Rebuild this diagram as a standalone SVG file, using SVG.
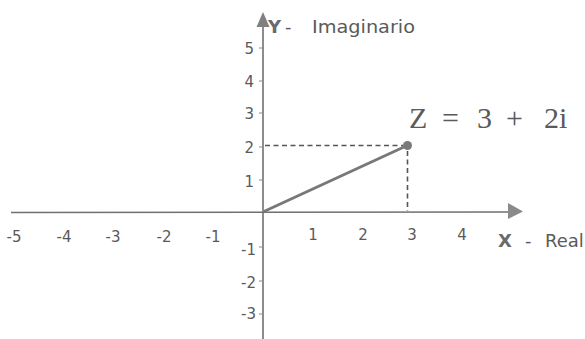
<svg xmlns="http://www.w3.org/2000/svg" width="585" height="339" viewBox="0 0 585 339">
<style>
.ax{stroke:#707070;stroke-width:1.6;fill:none}
.tk{stroke:#8a8a8a;stroke-width:1}
.dash{stroke:#555;stroke-width:1.6;stroke-dasharray:5,3.5;fill:none}
.num{font-family:"DejaVu Sans",Verdana,sans-serif;font-size:15px;fill:#5a5a5a}
.lab{font-family:"DejaVu Sans",Verdana,sans-serif;font-size:18px;fill:#5a5a5a}
.b{font-weight:bold;fill:#6a6a6a}
.eq{font-family:"Liberation Serif","Times New Roman",serif;font-size:30px;fill:#5a5a5a}
</style>
<rect width="585" height="339" fill="#ffffff"/>
<g id="connectors">
<line class="ax" x1="11" y1="212.5" x2="510" y2="212"/>
<path d="M508,203 L523,211.5 L508,219 Z" fill="#8a8a8a"/>
<line class="ax" x1="263" y1="339" x2="263" y2="26"/>
<path d="M256.5,27 L263,12 L269.5,27 Z" fill="#808080"/>
<line class="tk" x1="259" y1="48" x2="263" y2="48"/>
<line class="tk" x1="259" y1="81" x2="263" y2="81"/>
<line class="tk" x1="259" y1="113" x2="263" y2="113"/>
<line class="tk" x1="259" y1="147" x2="263" y2="147"/>
<line class="tk" x1="259" y1="180" x2="263" y2="180"/>
<line class="tk" x1="259" y1="247" x2="263" y2="247"/>
<line class="tk" x1="259" y1="281" x2="263" y2="281"/>
<line class="tk" x1="259" y1="314" x2="263" y2="314"/>
<line class="dash" x1="265" y1="145.5" x2="403" y2="145.5"/>
<line class="dash" x1="407.5" y1="151" x2="407.5" y2="211"/>
<line x1="265" y1="211" x2="405" y2="146.5" stroke="#787878" stroke-width="3" stroke-linecap="round"/>
</g>
<g id="point-z">
<circle cx="407.5" cy="145.5" r="4.5" fill="#7a7a7a"/>
<text class="eq" y="128"><tspan x="409">Z</tspan><tspan x="442">=</tspan><tspan x="477">3</tspan><tspan x="506">+</tspan><tspan x="544">2i</tspan></text>
</g>
<g id="y-label">
<text class="lab" x="268" y="33"><tspan class="b">Y</tspan><tspan x="285">-</tspan><tspan x="312" textLength="103" lengthAdjust="spacingAndGlyphs">Imaginario</tspan></text>
</g>
<g id="x-label">
<text class="lab" x="498" y="247"><tspan class="b">X</tspan><tspan x="525">-</tspan><tspan x="545">Real</tspan></text>
</g>
<g id="y-numbers" class="num" text-anchor="end">
<text x="254" y="54">5</text>
<text x="254" y="87">4</text>
<text x="254" y="119">3</text>
<text x="254" y="153">2</text>
<text x="254" y="187">1</text>
<text x="256" y="255">-1</text>
<text x="256" y="288">-2</text>
<text x="256" y="319">-3</text>
</g>
<g id="x-numbers" class="num" text-anchor="middle">
<text x="14" y="242">-5</text>
<text x="64" y="242">-4</text>
<text x="113" y="242">-3</text>
<text x="164" y="242">-2</text>
<text x="213" y="242">-1</text>
<text x="313" y="240">1</text>
<text x="363" y="240">2</text>
<text x="412" y="240">3</text>
<text x="462" y="240">4</text>
</g>
</svg>
